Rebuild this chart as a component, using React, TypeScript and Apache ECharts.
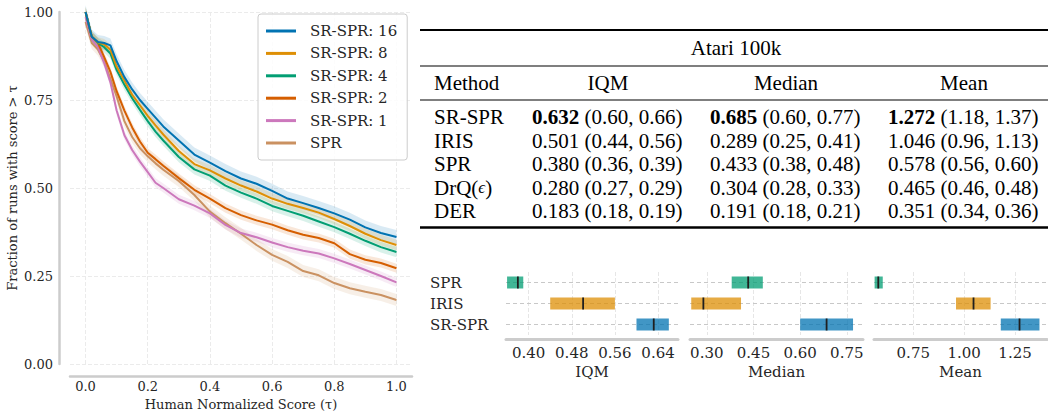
import React, { useEffect, useRef } from "react";
import * as echarts from "echarts";

// ---------- Left panel: performance profiles ----------
const tau = [0, 0.02, 0.04, 0.06, 0.08, 0.1, 0.125, 0.15, 0.175, 0.2, 0.225, 0.25, 0.3, 0.35, 0.4, 0.45, 0.5, 0.55, 0.6, 0.65, 0.7, 0.75, 0.8, 0.85, 0.9, 0.95, 1.0];
const srspr16 = [1.0, 0.93, 0.915, 0.912, 0.905, 0.86, 0.815, 0.78, 0.75, 0.725, 0.7, 0.675, 0.635, 0.595, 0.572, 0.548, 0.527, 0.512, 0.492, 0.47, 0.457, 0.443, 0.428, 0.41, 0.388, 0.372, 0.361];
const srspr8 = [1.0, 0.93, 0.913, 0.908, 0.893, 0.845, 0.805, 0.765, 0.735, 0.705, 0.678, 0.652, 0.605, 0.568, 0.55, 0.527, 0.507, 0.49, 0.47, 0.455, 0.443, 0.43, 0.412, 0.392, 0.37, 0.352, 0.338];
const srspr4 = [1.0, 0.93, 0.912, 0.9, 0.882, 0.835, 0.793, 0.755, 0.722, 0.69, 0.66, 0.635, 0.588, 0.553, 0.535, 0.507, 0.487, 0.47, 0.449, 0.435, 0.421, 0.405, 0.389, 0.37, 0.35, 0.332, 0.318];
const srspr2 = [1.0, 0.93, 0.912, 0.872, 0.83, 0.775, 0.72, 0.672, 0.632, 0.6, 0.582, 0.563, 0.528, 0.495, 0.47, 0.443, 0.423, 0.408, 0.396, 0.38, 0.367, 0.358, 0.343, 0.312, 0.296, 0.287, 0.272];
const srspr1 = [0.985, 0.922, 0.9, 0.855, 0.8, 0.72, 0.65, 0.608, 0.575, 0.545, 0.515, 0.5, 0.468, 0.45, 0.428, 0.395, 0.372, 0.36, 0.345, 0.332, 0.322, 0.314, 0.3, 0.284, 0.267, 0.25, 0.232];
const sprCurve = [0.972, 0.912, 0.893, 0.86, 0.81, 0.76, 0.69, 0.645, 0.613, 0.59, 0.57, 0.552, 0.52, 0.48, 0.433, 0.4, 0.37, 0.338, 0.31, 0.29, 0.264, 0.252, 0.23, 0.215, 0.205, 0.196, 0.182];
const curveNames = ["SR-SPR: 16", "SR-SPR: 8", "SR-SPR: 4", "SR-SPR: 2", "SR-SPR: 1", "SPR"];
const curves = [srspr16, srspr8, srspr4, srspr2, srspr1, sprCurve];
const ciHalfWidth = [0.02, 0.015, 0.015, 0.013, 0.013, 0.017];
const curveColors = ["#0173b2", "#de8f05", "#029e73", "#d55e00", "#cc78bc", "#ca9161"];
const xTicks = [0, 0.2, 0.4, 0.6, 0.8, 1.0];

// ---------- Table ----------
const tableMethods = ["SR-SPR", "IRIS", "SPR", "DrQ(ϵ)", "DER"];
const iqm = [0.632, 0.501, 0.38, 0.28, 0.183];
const iqmLo = [0.6, 0.44, 0.36, 0.27, 0.18];
const iqmHi = [0.66, 0.56, 0.39, 0.29, 0.19];
const median = [0.685, 0.289, 0.433, 0.304, 0.191];
const medianLo = [0.6, 0.25, 0.38, 0.28, 0.18];
const medianHi = [0.77, 0.41, 0.48, 0.33, 0.21];
const mean = [1.272, 1.046, 0.578, 0.465, 0.351];
const meanLo = [1.18, 0.96, 0.56, 0.46, 0.34];
const meanHi = [1.37, 1.13, 0.6, 0.48, 0.36];

// ---------- Interval plots ----------
const intervalRows = ["SR-SPR", "IRIS", "SPR"]; // bottom to top
const intervalColors = ["rgba(1,115,178,0.75)", "rgba(222,143,5,0.75)", "rgba(2,158,115,0.75)"];
const iqmTicks = [0.4, 0.48, 0.56, 0.64];
const medianTicks = [0.3, 0.45, 0.6, 0.75];
const meanTicks = [0.75, 1.0, 1.25];

const SERIF = '"DejaVu Serif", serif';
const TIMES = '"Liberation Serif", "Times New Roman", serif';
const TXT = "#262626";

function buildOption() {
  const series: any[] = [];
  // confidence bands (polygon through the axes' scales)
  curves.forEach((c, i) => {
    series.push({
      name: "band" + i,
      type: "custom",
      xAxisIndex: 0,
      yAxisIndex: 0,
      silent: true,
      z: 1,
      data: [[0, 0]],
      renderItem: (params: any, api: any) => {
        const upper = tau.map((t, k) => api.coord([t, c[k] + ciHalfWidth[i]]));
        const lower = tau.map((t, k) => api.coord([t, c[k] - ciHalfWidth[i]])).reverse();
        return {
          type: "polygon",
          shape: { points: upper.concat(lower) },
          style: { fill: curveColors[i], opacity: 0.15 },
        };
      },
    });
  });
  curves.forEach((c, i) => {
    series.push({
      name: curveNames[i],
      type: "line",
      xAxisIndex: 0,
      yAxisIndex: 0,
      data: tau.map((t, k) => [t, c[k]]),
      showSymbol: false,
      color: curveColors[i],
      lineStyle: { width: 2, color: curveColors[i] },
      z: 3 + (curves.length - i),
    });
  });

  const panels = [
    { name: "IQM", lo: iqmLo, hi: iqmHi, pt: iqm, ticks: iqmTicks, min: 0.358, max: 0.677, left: 506, width: 172 },
    { name: "Median", lo: medianLo, hi: medianHi, pt: median, ticks: medianTicks, min: 0.246, max: 0.802, left: 690, width: 173 },
    { name: "Mean", lo: meanLo, hi: meanHi, pt: mean, ticks: meanTicks, min: 0.557, max: 1.407, left: 874, width: 173 },
  ];

  const grids: any[] = [{ left: 70, top: 12, width: 342, height: 352, outerBoundsMode: "none", containLabel: false }];
  const xAxes: any[] = [
    {
      gridIndex: 0,
      type: "value",
      min: -0.05,
      max: 1.05,
      offset: 12,
      axisLine: { show: true, onZero: false, lineStyle: { color: "#cccccc", width: 2.5 } },
      axisTick: { show: false, customValues: xTicks },
      axisLabel: { customValues: xTicks, formatter: (v: number) => v.toFixed(1), margin: 4, fontSize: 13, fontFamily: SERIF, color: TXT },
      splitLine: { show: true, lineStyle: { color: "#ebebeb", type: "dashed", width: 1 } },
      name: "Human Normalized Score (τ)",
      nameLocation: "middle",
      nameGap: 20,
      nameTextStyle: { fontSize: 13, fontFamily: SERIF, color: TXT },
    },
  ];
  const yAxes: any[] = [
    {
      gridIndex: 0,
      type: "value",
      min: 0,
      max: 1,
      interval: 0.25,
      offset: 11,
      axisLine: { show: true, onZero: false, lineStyle: { color: "#cccccc", width: 2.5 } },
      axisTick: { show: false },
      axisLabel: { formatter: (v: number) => v.toFixed(2), margin: 6, fontSize: 13, fontFamily: SERIF, color: TXT },
      splitLine: { show: true, lineStyle: { color: "#ebebeb", type: "dashed", width: 1 } },
      name: "Fraction of runs with score > τ",
      nameLocation: "middle",
      nameGap: 40,
      nameTextStyle: { fontSize: 13, fontFamily: SERIF, color: TXT },
    },
  ];

  const rowIdx = intervalRows.map((r) => tableMethods.indexOf(r));

  panels.forEach((p, k) => {
    const gi = k + 1;
    grids.push({ left: p.left, top: 272, width: p.width, height: 63, outerBoundsMode: "none", containLabel: false });
    xAxes.push({
      gridIndex: gi,
      type: "value",
      min: p.min,
      max: p.max,
      offset: 4,
      axisLine: { show: true, onZero: false, lineStyle: { color: "#cccccc", width: 3 } },
      axisTick: { show: false, customValues: p.ticks },
      axisLabel: { customValues: p.ticks, formatter: (v: number) => v.toFixed(2), margin: 6, fontSize: 15, fontFamily: SERIF, color: TXT },
      splitLine: { show: true, lineStyle: { color: "#e6e6e6", type: "dashed", width: 1 } },
      name: p.name,
      nameLocation: "middle",
      nameGap: 25,
      nameTextStyle: { fontSize: 15, fontFamily: SERIF, color: TXT },
    });
    yAxes.push({
      gridIndex: gi,
      type: "category",
      data: intervalRows,
      axisLine: { show: false },
      axisTick: { show: false },
      splitLine: { show: false },
      axisLabel: { show: k === 0, align: "left", margin: 76, fontSize: 15, fontFamily: SERIF, color: TXT },
    });
    series.push({
      type: "custom",
      name: "interval" + k,
      xAxisIndex: gi,
      yAxisIndex: gi,
      silent: true,
      encode: { x: [1, 2, 3], y: 0 },
      data: rowIdx.map((ti, r) => [r, p.lo[ti], p.hi[ti], p.pt[ti]]),
      renderItem: (params: any, api: any) => {
        const r = api.value(0);
        const a = api.coord([api.value(1), r]);
        const b = api.coord([api.value(2), r]);
        const m = api.coord([api.value(3), r]);
        const cs = params.coordSys;
        const h = 12;
        return {
          type: "group",
          children: [
            { type: "line", shape: { x1: cs.x, y1: a[1], x2: cs.x + cs.width, y2: a[1] }, style: { stroke: "#c8c8c8", lineDash: [4, 3], lineWidth: 1 } },
            { type: "rect", shape: { x: a[0], y: a[1] - h / 2, width: b[0] - a[0], height: h }, style: { fill: intervalColors[r] } },
            { type: "line", shape: { x1: m[0], y1: a[1] - h / 2, x2: m[0], y2: a[1] + h / 2 }, style: { stroke: "#1f1f1f", lineWidth: 1.8 } },
          ],
        };
      },
    });
  });

  // ---------- Table graphic ----------
  const graphic: any[] = [];
  const rules = [
    { y: 30, w: 2 },
    { y: 66, w: 1.2 },
    { y: 100, w: 1.2 },
    { y: 227.5, w: 2.5 },
  ];
  rules.forEach((r) => {
    graphic.push({ type: "line", shape: { x1: 420, y1: r.y, x2: 1048, y2: r.y }, style: { stroke: "#000", lineWidth: r.w } });
  });
  const tstyle = (text: string, x: number, y: number, align: string, rich?: any) => ({
    type: "text",
    x,
    y,
    style: {
      text,
      fontSize: 21,
      fontFamily: TIMES,
      fill: "#000",
      align,
      verticalAlign: "middle",
      rich,
    },
  });
  const rich = {
    b: { fontSize: 21, fontFamily: TIMES, fontWeight: "bold", fill: "#000" },
    i: { fontSize: 17, fontFamily: TIMES, fontStyle: "italic", fill: "#000" },
  };
  graphic.push(tstyle("Atari 100k", 736, 48, "center"));
  graphic.push(tstyle("Method", 434, 83, "left"));
  graphic.push(tstyle("IQM", 608, 83, "center"));
  graphic.push(tstyle("Median", 786, 83, "center"));
  graphic.push(tstyle("Mean", 964, 83, "center"));
  const rowY = [117, 140.5, 164, 187.5, 210.5];
  const cols = [
    { x: 532, v: iqm, lo: iqmLo, hi: iqmHi },
    { x: 710, v: median, lo: medianLo, hi: medianHi },
    { x: 888, v: mean, lo: meanLo, hi: meanHi },
  ];
  tableMethods.forEach((m, r) => {
    const label = m.replace("ϵ", "{i|ϵ}");
    graphic.push(tstyle(label, 434, rowY[r], "left", rich));
    cols.forEach((c) => {
      const best = Math.max(...c.v) === c.v[r];
      const pt = c.v[r].toFixed(3);
      const ci = ` (${c.lo[r].toFixed(2)}, ${c.hi[r].toFixed(2)})`;
      graphic.push(tstyle((best ? `{b|${pt}}` : pt) + ci, c.x, rowY[r], "left", rich));
    });
  });

  return {
    animation: false,
    backgroundColor: "#ffffff",
    grid: grids,
    xAxis: xAxes,
    yAxis: yAxes,
    legend: {
      data: curveNames,
      orient: "vertical",
      left: 258,
      top: 14,
      padding: [9, 10, 9, 8],
      itemGap: 6.4,
      itemWidth: 30,
      itemHeight: 3,
      icon: "rect",
      backgroundColor: "rgba(255,255,255,0.85)",
      borderColor: "#cccccc",
      borderWidth: 1,
      borderRadius: 3,
      textStyle: { fontFamily: SERIF, fontSize: 15, color: TXT, lineHeight: 16, padding: [0, 0, 0, 9] },
    },
    series,
    graphic,
  };
}

export default function App() {
  const ref = useRef<HTMLDivElement>(null);
  useEffect(() => {
    const chart = echarts.init(ref.current!, null, { renderer: "svg" });
    chart.setOption(buildOption() as any);
    return () => chart.dispose();
  }, []);
  return (
    <div
      ref={ref}
      style={{ position: "fixed", left: 0, top: 0, width: 1048, height: 411, background: "#fff" }}
    />
  );
}
